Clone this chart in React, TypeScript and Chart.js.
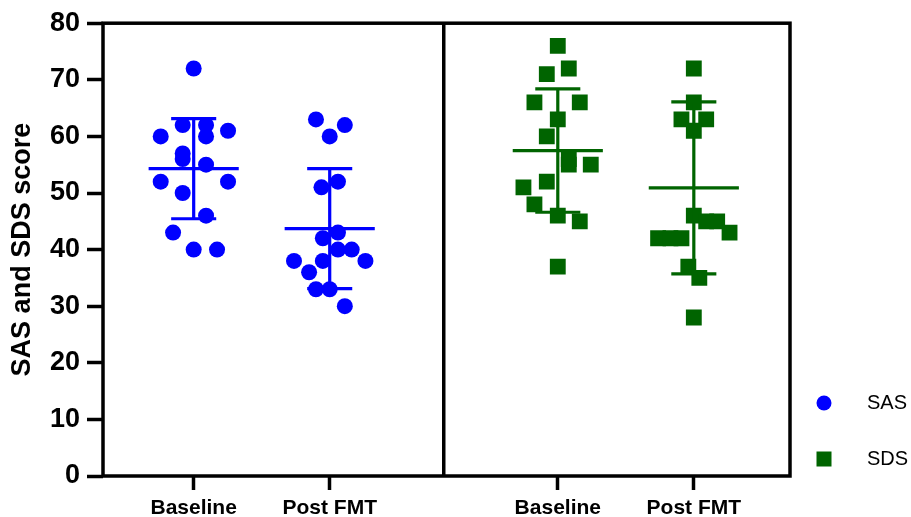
import React, { useEffect, useRef } from 'react';
import { Chart, registerables } from 'chart.js';

Chart.register(...registerables);

// ---- data ----
const categories = ['Baseline', 'Post FMT', 'Baseline', 'Post FMT'];
const categoryPositions = [0.66, 1.65, 3.31, 4.3];
const dividerPosition = 2.48;
const yTickStep = 10;
const yMin = 0;
const yMax = 80;

const sasBaseline = [72, 62, 62, 60, 61, 60, 57, 56, 55, 52, 52, 50, 46, 43, 40, 40];
const sasBaselineJitter = [0, -0.08, 0.09, -0.24, 0.25, 0.09, -0.08, -0.08, 0.09, -0.24, 0.25, -0.08, 0.09, -0.15, 0, 0.17];
const sasPost = [63, 62, 60, 52, 51, 43, 42, 40, 40, 38, 38, 38, 36, 33, 33, 30];
const sasPostJitter = [-0.1, 0.11, 0, 0.06, -0.06, 0.06, -0.05, 0.06, 0.16, -0.26, 0.26, -0.05, -0.15, -0.1, 0, 0.11];
const sdsBaseline = [76, 72, 71, 66, 66, 63, 60, 56, 55, 55, 52, 51, 48, 46, 45, 37];
const sdsBaselineJitter = [0, 0.08, -0.08, -0.17, 0.16, 0, -0.08, 0.08, 0.08, 0.24, -0.08, -0.25, -0.17, 0, 0.16, 0];
const sdsPost = [72, 66, 63, 63, 61, 46, 45, 45, 43, 42, 42, 42, 37, 35, 28];
const sdsPostJitter = [0, 0, -0.09, 0.09, 0, 0, 0.09, 0.17, 0.26, -0.26, -0.17, -0.09, -0.04, 0.04, 0];

const groupMeans = [54.3, 43.7, 57.5, 50.9];
const groupSDs = [8.85, 10.6, 10.9, 15.2];

const seriesNames = ['SAS', 'SDS'];
const SAS_COLOR = '#0000FF';
const SDS_COLOR = '#006400';
const groupColors = [SAS_COLOR, SAS_COLOR, SDS_COLOR, SDS_COLOR];

const FONT = "'Liberation Sans', Arial, Helvetica, sans-serif";

function toPoints(values: number[], jitter: number[], center: number) {
  return values.map((v, i) => ({ x: center + jitter[i], y: v }));
}

const boxPlugin = {
  id: 'boxPlugin',
  afterDatasetsDraw(chart: any) {
    const { ctx, chartArea, scales } = chart;
    const x = scales.x;
    ctx.save();
    ctx.strokeStyle = '#000';
    ctx.lineWidth = 3.5;
    ctx.strokeRect(chartArea.left, chartArea.top, chartArea.right - chartArea.left, chartArea.bottom - chartArea.top);
    const dx = x.getPixelForValue(dividerPosition);
    ctx.beginPath();
    ctx.moveTo(dx, chartArea.top);
    ctx.lineTo(dx, chartArea.bottom);
    ctx.stroke();
    ctx.restore();
  },
};

const meanSdPlugin = {
  id: 'meanSdPlugin',
  afterDatasetsDraw(chart: any) {
    const { ctx, scales } = chart;
    const x = scales.x;
    const y = scales.y;
    const meanHalf = 0.328;
    const capHalf = 0.164;
    ctx.save();
    ctx.lineWidth = 3.2;
    categoryPositions.forEach((c, i) => {
      ctx.strokeStyle = groupColors[i];
      const m = groupMeans[i];
      const sd = groupSDs[i];
      const px = x.getPixelForValue(c);
      const yMean = y.getPixelForValue(m);
      const yTop = y.getPixelForValue(m + sd);
      const yBot = y.getPixelForValue(m - sd);
      ctx.beginPath();
      ctx.moveTo(x.getPixelForValue(c - meanHalf), yMean);
      ctx.lineTo(x.getPixelForValue(c + meanHalf), yMean);
      ctx.moveTo(px, yTop);
      ctx.lineTo(px, yBot);
      ctx.moveTo(x.getPixelForValue(c - capHalf), yTop);
      ctx.lineTo(x.getPixelForValue(c + capHalf), yTop);
      ctx.moveTo(x.getPixelForValue(c - capHalf), yBot);
      ctx.lineTo(x.getPixelForValue(c + capHalf), yBot);
      ctx.stroke();
    });
    ctx.restore();
  },
};

const legendPlugin = {
  id: 'customLegend',
  afterDraw(chart: any) {
    const { ctx, chartArea } = chart;
    const markerX = chartArea.right + 34;
    const textX = chartArea.right + 77;
    const rows = [chartArea.bottom - 73, chartArea.bottom - 17];
    ctx.save();
    chart.data.datasets.forEach((ds: any, i: number) => {
      const yy = rows[i];
      ctx.fillStyle = ds.backgroundColor;
      if (ds.pointStyle === 'circle') {
        ctx.beginPath();
        ctx.arc(markerX, yy, 7.5, 0, Math.PI * 2);
        ctx.fill();
      } else {
        ctx.fillRect(markerX - 7.5, yy - 7.5, 15, 15);
      }
      ctx.fillStyle = '#000';
      ctx.font = `20px ${FONT}`;
      ctx.textAlign = 'left';
      ctx.textBaseline = 'middle';
      ctx.fillText(ds.label, textX, yy);
    });
    ctx.restore();
  },
};

export default function App() {
  const canvasRef = useRef<HTMLCanvasElement | null>(null);

  useEffect(() => {
    const canvas = canvasRef.current;
    if (!canvas) return;
    const chart = new Chart(canvas, {
      type: 'scatter',
      data: {
        datasets: [
          {
            label: seriesNames[0],
            data: [
              ...toPoints(sasBaseline, sasBaselineJitter, categoryPositions[0]),
              ...toPoints(sasPost, sasPostJitter, categoryPositions[1]),
            ],
            backgroundColor: SAS_COLOR,
            borderColor: SAS_COLOR,
            borderWidth: 0,
            pointStyle: 'circle',
            pointRadius: 8,
            pointHoverRadius: 8,
          },
          {
            label: seriesNames[1],
            data: [
              ...toPoints(sdsBaseline, sdsBaselineJitter, categoryPositions[2]),
              ...toPoints(sdsPost, sdsPostJitter, categoryPositions[3]),
            ],
            backgroundColor: SDS_COLOR,
            borderColor: SDS_COLOR,
            borderWidth: 0,
            pointStyle: 'rect',
            pointRadius: 11.2,
            pointHoverRadius: 11.2,
          },
        ],
      },
      options: {
        animation: false,
        responsive: false,
        devicePixelRatio: 1,
        layout: { padding: { top: 20, right: 121, left: 0, bottom: 0 } },
        plugins: {
          legend: { display: false },
          tooltip: { enabled: false },
          title: { display: false },
        },
        scales: {
          x: {
            type: 'linear',
            min: 0,
            max: 5,
            afterBuildTicks: (scale: any) => {
              scale.ticks = categoryPositions.map((v) => ({ value: v }));
            },
            afterFit: (scale: any) => {
              scale.height = 41;
            },
            ticks: {
              autoSkip: false,
              maxRotation: 0,
              minRotation: 0,
              padding: 6,
              color: '#000',
              font: { family: FONT, size: 21, weight: 'bold' },
              callback: (_v: any, index: number) => categories[index],
            },
            grid: {
              display: true,
              drawOnChartArea: false,
              drawTicks: true,
              tickLength: 14,
              tickWidth: 3.5,
              tickColor: '#000',
            },
            border: { display: false },
          },
          y: {
            type: 'linear',
            min: yMin,
            max: yMax,
            afterFit: (scale: any) => {
              scale.width = 103;
            },
            ticks: {
              stepSize: yTickStep,
              padding: 7,
              color: '#000',
              font: { family: FONT, size: 27, weight: 'bold' },
            },
            grid: {
              display: true,
              drawOnChartArea: false,
              drawTicks: true,
              tickLength: 16,
              tickWidth: 3.5,
              tickColor: '#000',
            },
            border: { display: false },
            title: {
              display: true,
              text: 'SAS and SDS score',
              color: '#000',
              font: { family: FONT, size: 27, weight: 'bold' },
              padding: { top: 6, bottom: 0 },
            },
          },
        },
      },
      plugins: [boxPlugin, meanSdPlugin, legendPlugin],
    } as any);
    return () => chart.destroy();
  }, []);

  return (
    <div style={{ position: 'fixed', left: 0, top: 0, width: 911, height: 517, background: '#fff' }}>
      <canvas ref={canvasRef} width={911} height={517} style={{ display: 'block', width: 911, height: 517 }} />
    </div>
  );
}
